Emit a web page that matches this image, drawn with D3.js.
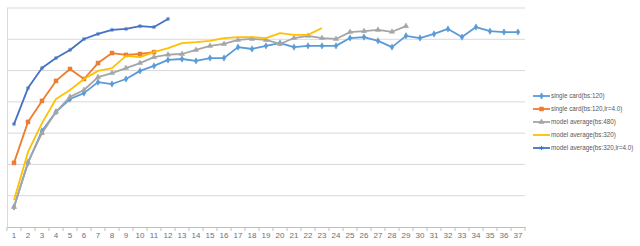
<!DOCTYPE html>
<html><head><meta charset="utf-8">
<script src="https://cdn.jsdelivr.net/npm/d3@7/dist/d3.min.js"></script>
<style>html,body{margin:0;padding:0;background:#fff;}svg{display:block;}</style>
</head><body><svg id="c" width="640" height="246"></svg>
<script>
const categories = d3.range(1, 38).map(String);
const yTicks = [0,10,20,30,40,50,60,70];
const seriesNames = ["single card(bs:120)","single card(bs:120,lr=4.0)","model average(bs:480)","model average(bs:320)","model average(bs:320,lr=4.0)"];
const singleCard = [6.4,20.5,30.7,36.8,40.9,42.8,46.3,45.7,47.3,49.9,51.5,53.4,53.7,53.1,54.0,54.0,57.5,56.9,57.9,58.8,57.5,57.9,57.9,57.9,60.4,60.7,59.5,57.5,61.1,60.4,61.7,63.3,60.7,63.9,62.6,62.3,62.3];
const singleCardLr = [20.5,33.6,40.3,46.7,50.5,47.3,52.4,55.6,55.0,55.3,55.9];
const avg480 = [6.4,20.8,30.0,36.8,41.6,43.8,47.9,49.2,50.8,52.4,54.3,55.1,55.3,56.6,57.9,58.5,59.8,60.1,59.8,58.5,60.4,61.1,60.4,60.1,62.3,62.6,63.0,62.4,64.2];
const avg320 = [8.6,24.0,33.2,40.9,43.8,47.3,49.9,50.8,54.7,54.3,55.9,57.2,58.8,59.1,59.5,60.4,60.7,60.7,60.4,62.0,61.4,61.4,63.6];
const avg320Lr = [32.9,44.4,50.8,54.0,56.6,60.1,61.7,63.0,63.3,64.2,63.9,66.5];
const seriesValues = [singleCard, singleCardLr, avg480, avg320, avg320Lr];
const colors = ["#5B9BD5","#ED7D31","#A5A5A5","#FFC000","#4472C4"];
const markers = ["diamond","square","triangle","none","x"];

const svg = d3.select("#c");
const x = d3.scaleBand().domain(categories).range([7, 525]).padding(0);
const y = d3.scaleLinear().domain([0, 70]).range([227, 8]);
const cx = c => x(c) + x.bandwidth() / 2;

// gridlines
svg.append("g").selectAll("line").data(yTicks.filter(t => t > 0)).join("line")
  .attr("x1", 7).attr("x2", 525).attr("y1", d => y(d)).attr("y2", d => y(d))
  .attr("stroke", "#d9d9d9").attr("stroke-width", 1);

// x axis
const xAxis = d3.axisBottom(x).tickSize(0).tickPadding(5);
const gx = svg.append("g").attr("transform", "translate(0,227)").call(xAxis);
gx.select(".domain").attr("stroke", "#bfbfbf");
gx.selectAll("text").attr("fill", "#6f6f6f").style("font-family", "Liberation Sans, Arial, sans-serif").style("font-size", "8px");
// tick marks at band boundaries
svg.append("g").selectAll("line").data(categories.concat(["end"])).join("line")
  .attr("x1", d => d === "end" ? 525 : x(d)).attr("x2", d => d === "end" ? 525 : x(d))
  .attr("y1", 227).attr("y2", 231).attr("stroke", "#bfbfbf");
// y axis line
svg.append("line").attr("x1", 7.5).attr("x2", 7.5).attr("y1", 8).attr("y2", 227).attr("stroke", "#d9d9d9");

const line = d3.line().x((d, i) => cx(categories[i])).y(d => y(d));
const symbolFor = m => ({diamond: d3.symbolDiamond, square: d3.symbolSquare, triangle: d3.symbolTriangle, x: d3.symbolAsterisk})[m];
const symSize = m => m === "square" ? 16 : 12;

seriesValues.forEach((vals, si) => {
  const g = svg.append("g");
  g.append("path").datum(vals).attr("d", line).attr("fill", "none")
    .attr("stroke", colors[si]).attr("stroke-width", 1.8).attr("stroke-linejoin", "round");
  if (markers[si] !== "none") {
    const sym = d3.symbol().type(symbolFor(markers[si])).size(symSize(markers[si]));
    g.selectAll("path.m").data(vals).join("path").attr("class", "m")
      .attr("transform", (d, i) => `translate(${cx(categories[i])},${y(d)})`)
      .attr("d", sym())
      .attr("fill", markers[si] === "x" ? "none" : colors[si])
      .attr("stroke", colors[si]).attr("stroke-width", markers[si] === "x" ? 1 : 0.5);
  }
});

// legend
const lg = svg.append("g");
seriesNames.forEach((n, i) => {
  const yy = 96 + i * 13;
  lg.append("line").attr("x1", 533).attr("x2", 550).attr("y1", yy).attr("y2", yy)
    .attr("stroke", colors[i]).attr("stroke-width", 1.8);
  if (markers[i] !== "none") {
    lg.append("path").attr("transform", `translate(541.5,${yy})`)
      .attr("d", d3.symbol().type(symbolFor(markers[i])).size(symSize(markers[i]))())
      .attr("fill", markers[i] === "x" ? "none" : colors[i]).attr("stroke", colors[i]).attr("stroke-width", markers[i] === "x" ? 1 : 0.5);
  }
  lg.append("text").attr("x", 551).attr("y", yy).attr("dy", "0.35em")
    .attr("fill", "#595959").style("font-family", "Liberation Sans, Arial, sans-serif").style("font-size", "6.3px")
    .text(n);
});
</script></body></html>
